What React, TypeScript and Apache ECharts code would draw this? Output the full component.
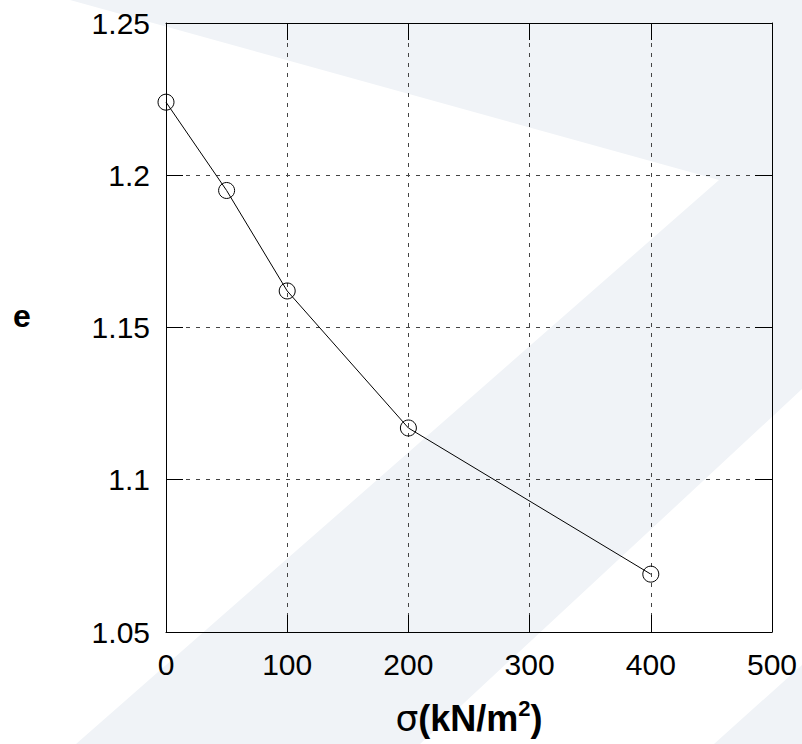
import React, { useEffect, useRef } from "react";
import * as echarts from "echarts";

const sigma = [0, 50, 100, 200, 400];
const voidRatio = [1.224, 1.195, 1.162, 1.117, 1.069];
const xTicks = { min: 0, max: 500, interval: 100 };
const yTicks = { min: 1.05, max: 1.25, interval: 0.05 };

const W = 802;
const H = 744;
const LIGHT = "#f0f3f7";

export default function App() {
  const ref = useRef<HTMLDivElement>(null);
  useEffect(() => {
    if (!ref.current) return;
    const chart = echarts.init(ref.current, undefined, { renderer: "svg" });
    const font = "Liberation Sans, Arial, sans-serif";
    const tickCommon = {
      show: true,
      inside: true,
      length: 17,
      lineStyle: { color: "#000", width: 1 },
    };
    const gridLine = {
      show: true,
      lineStyle: { color: "#444", width: 1, type: [4, 6] as any },
    };
    const fmtY = (v: number) => String(parseFloat(v.toFixed(2)));
    chart.setOption({
      animation: false,
      backgroundColor: "#fff",
      graphic: [
        {
          type: "polygon",
          z: -10,
          silent: true,
          shape: {
            points: [
              [70, 0],
              [W, 0],
              [W, 389],
              [420, H],
              [76, H],
              [719, 180],
            ],
          },
          style: { fill: LIGHT },
        },
        {
          type: "polygon",
          z: -10,
          silent: true,
          shape: {
            points: [
              [W, 665],
              [W, H],
              [714, H],
            ],
          },
          style: { fill: LIGHT },
        },
        {
          type: "text",
          left: 13,
          top: 300,
          style: {
            text: "e",
            font: `bold 32px ${font}`,
            fill: "#000",
          },
        },
      ],
      grid: {
        left: 166,
        right: 30,
        top: 23,
        bottom: 112,
        show: false,
        containLabel: false,
        outerBoundsMode: "none",
      },
      xAxis: [
        {
          type: "value",
          min: xTicks.min,
          max: xTicks.max,
          interval: xTicks.interval,
          position: "bottom",
          axisLine: { show: true, onZero: false, lineStyle: { color: "#000", width: 1 } },
          axisTick: tickCommon,
          splitLine: gridLine,
          axisLabel: { fontSize: 30, fontFamily: font, color: "#000", margin: 17 },
          name: "{s|σ}{b|(kN/m}{sup|2}{b|)}",
          nameLocation: "middle",
          nameGap: 65,
          nameTextStyle: {
            rich: {
              s: { fontSize: 36, fontFamily: "DejaVu Sans, sans-serif", color: "#000", fontWeight: "normal", lineHeight: 42 },
              b: { fontSize: 36, fontFamily: font, fontWeight: "bold", color: "#000", lineHeight: 42 },
              sup: { fontSize: 22, fontFamily: font, fontWeight: "bold", color: "#000", lineHeight: 22, padding: [0, 0, 20, 0] },
            },
          },
        },
        {
          type: "value",
          min: xTicks.min,
          max: xTicks.max,
          interval: xTicks.interval,
          position: "top",
          axisLine: { show: true, onZero: false, lineStyle: { color: "#000", width: 1 } },
          axisTick: tickCommon,
          splitLine: { show: false },
          axisLabel: { show: false },
        },
      ],
      yAxis: [
        {
          type: "value",
          min: yTicks.min,
          max: yTicks.max,
          interval: yTicks.interval,
          position: "left",
          axisLine: { show: true, onZero: false, lineStyle: { color: "#000", width: 1 } },
          axisTick: tickCommon,
          splitLine: gridLine,
          axisLabel: {
            fontSize: 30,
            fontFamily: font,
            color: "#000",
            margin: 16,
            padding: [0, 0, 8, 0],
            formatter: fmtY,
          },
        },
        {
          type: "value",
          min: yTicks.min,
          max: yTicks.max,
          interval: yTicks.interval,
          position: "right",
          axisLine: { show: true, onZero: false, lineStyle: { color: "#000", width: 1 } },
          axisTick: tickCommon,
          splitLine: { show: false },
          axisLabel: { show: false },
        },
      ],
      series: [
        {
          type: "line",
          data: sigma.map((x, i) => [x, voidRatio[i]]),
          symbol: "circle",
          symbolSize: 16,
          showAllSymbol: true,
          lineStyle: { color: "#000", width: 1 },
          itemStyle: { color: "rgba(0,0,0,0)", borderColor: "#000", borderWidth: 1 },
          z: 5,
        },
      ],
    });
    return () => chart.dispose();
  }, []);
  return (
    <div
      ref={ref}
      style={{ position: "fixed", left: 0, top: 0, width: W, height: H }}
    />
  );
}
